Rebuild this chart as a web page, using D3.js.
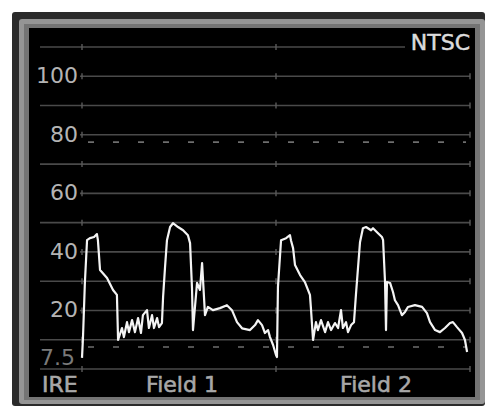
<!DOCTYPE html>
<html>
<head>
<meta charset="utf-8">
<script src="https://cdn.jsdelivr.net/npm/d3@7"></script>
<style>
  html, body { margin: 0; padding: 0; background: #fff; }
  svg { display: block; }
  text { font-family: "DejaVu Sans", sans-serif; }
</style>
</head>
<body>
<svg id="chart" width="485" height="406"></svg>
<script>
// ---- Data (time in field units: 0-1 = Field 1, 1-2 = Field 2; level in IRE) ----
const time = [
  0, .005, .015, .026, .041, .062, .077, .082, .093, .129, .160, .180, .186,
  .206, .216, .232, .242, .258, .273, .289, .304, .314, .335, .345, .361, .371, .387, .397, .412,
  .418, .428, .438, .454, .469, .495, .521, .546, .557, .567, .572, .593, .608, .619, .634, .649,
  .675, .711, .747, .773, .799, .825, .866, .892, .907, .928, .943, .959, .969, .985, 1.0, 1.005,
  1.010, 1.026, 1.052, 1.072, 1.077, 1.088, 1.098, 1.124, 1.149, 1.175, 1.180, 1.191,
  1.206, 1.216, 1.232, 1.253, 1.268, 1.284, 1.304, 1.320, 1.335, 1.345, 1.361, 1.371, 1.387, 1.402,
  1.412, 1.423, 1.433, 1.448, 1.464, 1.490, 1.500, 1.526, 1.546, 1.552, 1.562, 1.567, 1.572,
  1.588, 1.603, 1.613, 1.629, 1.649, 1.665, 1.680, 1.716, 1.753, 1.778, 1.794, 1.820, 1.845,
  1.871, 1.897, 1.912, 1.933, 1.959, 1.974, 1.985
];
const ire = [
  3.8, 10.6, 29.7, 44.0, 44.7, 45.1, 46.1, 44.0, 33.8, 31.1, 27.0, 25.3, 9.9,
  14.0, 10.9, 16.0, 12.6, 16.7, 12.6, 17.4, 12.3, 18.4, 20.1, 14.0, 18.4, 14.0, 17.4, 14.3, 15.7,
  24.6, 34.8, 44.0, 48.5, 49.8, 48.5, 47.4, 45.7, 43.0, 27.6, 13.3, 29.4, 27.0, 36.2, 18.4, 21.2,
  20.1, 20.8, 21.8, 20.1, 16.0, 13.9, 13.3, 15.0, 16.7, 15.0, 12.3, 13.3, 10.9, 8.2, 4.8, 4.1,
  28.0, 44.0, 44.7, 45.7, 44.0, 41.3, 35.5, 32.1, 29.7, 25.3, 20.8, 9.9,
  16.0, 13.3, 16.7, 12.6, 16.0, 13.3, 15.7, 14.0, 20.1, 14.0, 16.0, 12.6, 15.0, 16.0,
  25.3, 34.8, 43.3, 48.1, 48.5, 47.4, 48.1, 46.4, 45.1, 44.0, 29.7, 13.3, 29.7,
  29.4, 26.3, 23.5, 21.8, 18.4, 19.5, 21.2, 21.8, 21.2, 19.1, 16.0, 13.3, 12.6, 14.0,
  15.7, 16.0, 14.3, 12.3, 9.9, 5.8
];
const gridLevels = [0, 10, 20, 30, 40, 50, 60, 70, 80, 90, 100, 110];
const labeledLevels = [100, 80, 60, 40, 20];
const dashedLevels = [77.5, 7.5];
const setupLabel = "7.5";
const fieldTicks = [0, 1, 2];
const fieldNames = ["Field 1", "Field 2"];
const unitLabel = "IRE";
const standardLabel = "NTSC";

// ---- Scales ----
const x = d3.scaleLinear().domain([0, 2]).range([82, 470]);
const y = d3.scaleLinear().domain([0, 110]).range([369, 47]);

const svg = d3.select("#chart");

// ---- Frame ----
svg.append("rect").attr("x", 12).attr("y", 12).attr("width", 473).attr("height", 394)
  .attr("rx", 3).attr("fill", "#2b2b2b");
svg.append("rect").attr("x", 19).attr("y", 19).attr("width", 466).attr("height", 385)
  .attr("rx", 3).attr("fill", "#959595");
svg.append("rect").attr("x", 24).attr("y", 24).attr("width", 456).attr("height", 376)
  .attr("fill", "#747474");
svg.append("rect").attr("x", 29).attr("y", 28).attr("width", 446).attr("height", 369)
  .attr("fill", "#000");

// ---- Grid lines ----
const g = svg.append("g");
g.selectAll("line.grid").data(gridLevels).join("line")
  .attr("class", "grid")
  .attr("x1", d => labeledLevels.includes(d) ? x(0) - 2 : 40)
  .attr("x2", d => d === 110 ? 405 : x(2))
  .attr("y1", d => y(d)).attr("y2", d => y(d))
  .attr("stroke", "#4a4a4a").attr("stroke-width", 1.6);

// tick marks at field boundaries
const tickData = [];
gridLevels.forEach(v => fieldTicks.forEach(t => {
  if (!(v === 110 && t === 2)) tickData.push({v, t});
}));
g.selectAll("line.tick").data(tickData).join("line")
  .attr("class", "tick")
  .attr("x1", d => x(d.t)).attr("x2", d => x(d.t))
  .attr("y1", d => y(d.v) - 3).attr("y2", d => y(d.v) + 3)
  .attr("stroke", "#5a5a5a").attr("stroke-width", 1.4);

// dashed reference lines
g.selectAll("line.dash").data(dashedLevels).join("line")
  .attr("class", "dash")
  .attr("x1", 88).attr("x2", 466)
  .attr("y1", d => y(d)).attr("y2", d => y(d))
  .attr("stroke", "#6e6e6e").attr("stroke-width", 1.6)
  .attr("stroke-dasharray", "6 19");

// ---- Labels ----
g.selectAll("text.ylab").data(labeledLevels).join("text")
  .attr("class", "ylab")
  .attr("x", 78).attr("y", d => y(d) + 7)
  .attr("text-anchor", "end")
  .attr("font-size", 22).attr("fill", "#b4b4b4")
  .text(d => d);

g.append("text").attr("x", 75).attr("y", y(0) - 4)
  .attr("text-anchor", "end").attr("font-size", 22).attr("fill", "#7a7a7a")
  .text(setupLabel);

g.append("text").attr("x", 42).attr("y", 392)
  .attr("font-size", 22).attr("fill", "#a8a8a8")
  .attr("stroke", "#a8a8a8").attr("stroke-width", 0.6)
  .text(unitLabel);

g.selectAll("text.field").data(fieldNames).join("text")
  .attr("class", "field")
  .attr("x", (d, i) => (x(i) + x(i + 1)) / 2 + 3)
  .attr("y", 392)
  .attr("text-anchor", "middle")
  .attr("font-size", 22).attr("fill", "#a8a8a8")
  .attr("stroke", "#a8a8a8").attr("stroke-width", 0.6)
  .text(d => d);

g.append("text").attr("x", 470).attr("y", 50)
  .attr("text-anchor", "end").attr("font-size", 22).attr("fill", "#dcdcdc")
  .attr("stroke", "#dcdcdc").attr("stroke-width", 0.5)
  .text(standardLabel);

// ---- Waveform ----
const pts = time.map((t, i) => [t, ire[i]]);
const line = d3.line().x(d => x(d[0])).y(d => y(d[1]));
svg.append("path").datum(pts)
  .attr("d", line)
  .attr("fill", "none")
  .attr("stroke", "#f4f4f4")
  .attr("stroke-width", 2.2)
  .attr("stroke-linejoin", "round");
</script>
</body>
</html>
